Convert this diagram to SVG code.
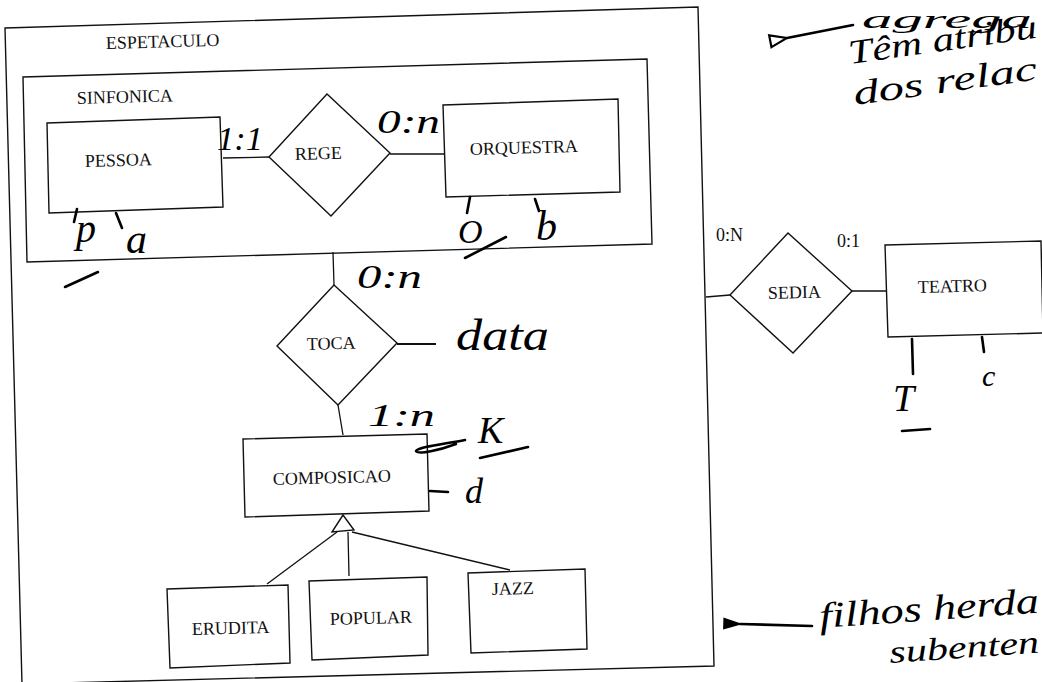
<svg xmlns="http://www.w3.org/2000/svg" width="1042" height="682" viewBox="0 0 1042 682">
<defs>
<style>
.box{fill:none;stroke:#111;stroke-width:1.4;stroke-linejoin:miter}
.ent{fill:#fff;stroke:#111;stroke-width:1.4}
.ln{fill:none;stroke:#111;stroke-width:1.3}
.pt{font-family:"Liberation Serif","Times New Roman",serif;font-size:18px;fill:#111}
.hw{font-family:"Liberation Serif","DejaVu Serif",serif;font-style:italic;fill:#000}
.hs{fill:none;stroke:#000;stroke-width:2.6;stroke-linecap:round;stroke-linejoin:round}
</style>
<marker id="openArrow" markerWidth="20" markerHeight="16" refX="1" refY="8" orient="auto-start-reverse" markerUnits="userSpaceOnUse">
<path d="M18,2 L1,8 L18,14 Z" fill="#fff" stroke="#000" stroke-width="2.2"/>
</marker>
<marker id="fillArrow" markerWidth="18" markerHeight="14" refX="1" refY="7" orient="auto-start-reverse" markerUnits="userSpaceOnUse">
<path d="M17,2 L1,7 L17,12 Z" fill="#000" stroke="#000" stroke-width="1.5"/>
</marker>
</defs>
<rect width="1042" height="682" fill="#fff"/>

<g id="espetaculo">
<polygon class="box" points="5,28 698,7 714,666 22,684"/>
<text class="pt" x="106" y="49" transform="rotate(-1.6 106 49)">ESPETACULO</text>
</g>

<g id="sinfonica">
<polygon class="box" points="23,77 647,59 652,244 27,262"/>
<text class="pt" x="77" y="104" transform="rotate(-1.6 77 104)">SINFONICA</text>
</g>

<g id="pessoa">
<polygon class="ent" points="47,123 220,117 223,207 49,213"/>
<text class="pt" x="85" y="167" transform="rotate(-1.6 85 167)">PESSOA</text>
</g>

<g id="rege">
<polygon class="ent" points="269,157 327,94 390,153 331,216"/>
<text class="pt" x="295" y="160" transform="rotate(-1.6 295 160)">REGE</text>
</g>

<g id="orquestra">
<polygon class="ent" points="443,105 618,99 620,192 446,197"/>
<text class="pt" x="470" y="155" transform="rotate(-1.6 470 155)">ORQUESTRA</text>
</g>

<g id="toca">
<polygon class="ent" points="334,285 397,343 338,405 277,346"/>
<text class="pt" x="307" y="350" transform="rotate(-1.6 307 350)">TOCA</text>
</g>

<g id="composicao">
<polygon class="ent" points="243,439 427,434 429,511 245,517"/>
<text class="pt" x="273" y="485" transform="rotate(-1.6 273 485)">COMPOSICAO</text>
</g>

<g id="generalizacao">
<polygon class="ent" points="343,515 332,532 354,530"/>
</g>

<g id="erudita">
<polygon class="ent" points="167,589 288,585 290,663 170,668"/>
<text class="pt" x="192" y="635" transform="rotate(-1.6 192 635)">ERUDITA</text>
</g>

<g id="popular">
<polygon class="ent" points="309,581 427,577 428,655 312,660"/>
<text class="pt" x="330" y="625" transform="rotate(-1.6 330 625)">POPULAR</text>
</g>

<g id="jazz">
<polygon class="ent" points="468,573 585,569 587,649 471,653"/>
<text class="pt" x="492" y="595" transform="rotate(-1.6 492 595)">JAZZ</text>
</g>

<g id="sedia">
<polygon class="ent" points="730,295 788,233 852,291 793,353"/>
<text class="pt" x="768" y="299" transform="rotate(-1.6 768 299)">SEDIA</text>
</g>

<g id="teatro">
<polygon class="ent" points="885,245 1041,241 1043,333 888,337"/>
<text class="pt" x="918" y="293" transform="rotate(-1.6 918 293)">TEATRO</text>
</g>

<g id="connectors">
<line class="ln" x1="223" y1="158" x2="269" y2="157"/>
<line class="ln" x1="390" y1="154" x2="445" y2="154"/>
<line class="ln" x1="333" y1="252" x2="334" y2="285"/>
<line class="ln" x1="338" y1="405" x2="343" y2="435"/>
<line class="ln" x1="337" y1="532" x2="267" y2="584"/>
<line class="ln" x1="348" y1="532" x2="349" y2="576"/>
<line class="ln" x1="352" y1="532" x2="510" y2="570"/>
<line class="ln" x1="706" y1="297" x2="730" y2="295"/>
<line class="ln" x1="852" y1="291" x2="886" y2="291"/>
<line class="ln" x1="397" y1="344" x2="436" y2="344" style="stroke-width:2"/>
</g>

<g id="cardinalidades">
<text class="pt" x="716" y="241">0:N</text>
<text class="pt" x="837" y="247">0:1</text>
<text class="hw" x="217" y="150" font-size="34" textLength="46" lengthAdjust="spacingAndGlyphs">1:1</text>
<text class="hw" x="377" y="133" font-size="34" textLength="63" lengthAdjust="spacingAndGlyphs">0:n</text>
<text class="hw" x="357" y="288" font-size="34" textLength="65" lengthAdjust="spacingAndGlyphs">0:n</text>
<text class="hw" x="368" y="426" font-size="32" textLength="67" lengthAdjust="spacingAndGlyphs">1:n</text>
</g>

<g id="atributos">
<path class="hs" d="M77,209 L74,222"/>
<path class="hs" d="M116,213 L122,228"/>
<path class="hs" d="M65,287 L98,272"/>
<text class="hw" x="76" y="242" font-size="40">p</text>
<text class="hw" x="126" y="253" font-size="42">a</text>
<path class="hs" d="M470,197 L467,213"/>
<path class="hs" d="M535,199 L539,211"/>
<path class="hs" d="M465,258 L506,237"/>
<text class="hw" x="458" y="243" font-size="34">O</text>
<text class="hw" x="536" y="240" font-size="42">b</text>
<text class="hw" x="456" y="350" font-size="44" textLength="93" lengthAdjust="spacingAndGlyphs">data</text>
<path class="hs" d="M465,440 C445,444 418,447 416,451 C418,455 440,450 456,444"/>
<path class="hs" d="M480,458 L528,447"/>
<text class="hw" x="478" y="443" font-size="38">K</text>
<path class="hs" d="M430,491 L448,492"/>
<text class="hw" x="465" y="503" font-size="36">d</text>
<path class="hs" d="M912,339 L913,374"/>
<path class="hs" d="M902,431 L930,429"/>
<text class="hw" x="893" y="411" font-size="38">T</text>
<path class="hs" d="M982,337 L984,352"/>
<text class="hw" x="982" y="386" font-size="30">c</text>
</g>

<g id="notas">
<path class="hs" d="M853,25 L787,38" marker-end="url(#openArrow)"/>
<text class="hw" x="862" y="28" font-size="26" textLength="170" lengthAdjust="spacingAndGlyphs">agrega</text>
<text class="hw" x="850" y="64" font-size="34" textLength="190" lengthAdjust="spacingAndGlyphs" transform="rotate(-8 850 64)">Têm atribu</text>
<text class="hw" x="855" y="105" font-size="34" textLength="185" lengthAdjust="spacingAndGlyphs" transform="rotate(-8 855 105)">dos relac</text>
<path class="hs" d="M812,626 L740,624" marker-end="url(#fillArrow)"/>
<text class="hw" x="820" y="628" font-size="36" textLength="220" lengthAdjust="spacingAndGlyphs" transform="rotate(-4 820 628)">filhos herda</text>
<text class="hw" x="890" y="663" font-size="32" textLength="150" lengthAdjust="spacingAndGlyphs" transform="rotate(-4 890 663)">subenten</text>
</g>
</svg>
